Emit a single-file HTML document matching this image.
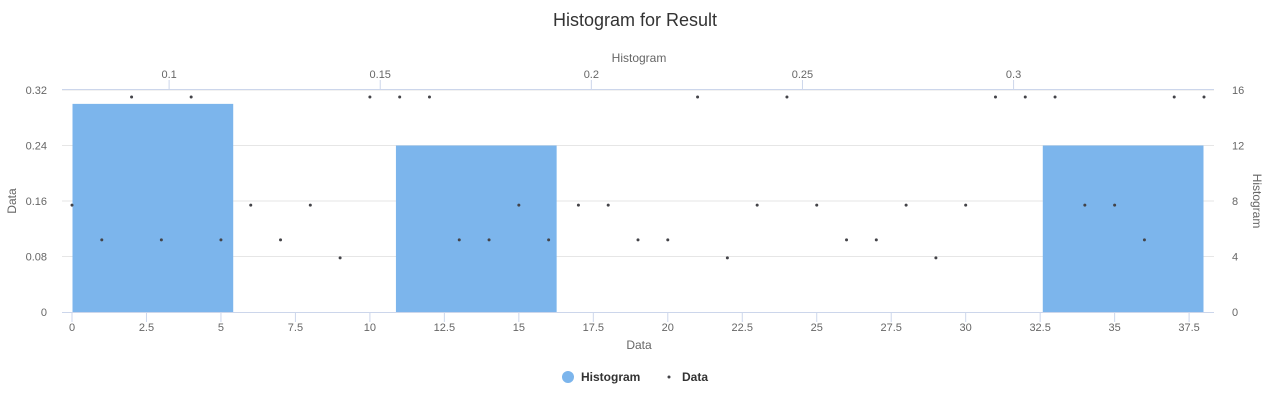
<!DOCTYPE html>
<html><head><meta charset="utf-8"><style>
body{margin:0;background:#fff;font-family:"Liberation Sans",sans-serif}
svg text{font-family:"Liberation Sans",sans-serif}
</style></head><body>
<svg id="c" width="1270" height="407"></svg>
<script>
const dataValues=[0.154,0.104,0.31,0.104,0.31,0.104,0.154,0.104,0.154,0.078,0.31,0.31,0.31,0.104,0.104,0.154,0.104,0.154,0.154,0.104,0.104,0.31,0.078,0.154,0.31,0.154,0.104,0.104,0.154,0.078,0.154,0.31,0.31,0.31,0.154,0.154,0.104,0.31,0.31];
const histCounts=[15,0,12,0,0,0,12];
const binStart=0.077, binWidth=0.0383;
const leftTicks=[0,0.08,0.16,0.24,0.32];
const rightTicks=[0,4,8,12,16];
const bottomTicks=[0,2.5,5,7.5,10,12.5,15,17.5,20,22.5,25,27.5,30,32.5,35,37.5];
const topTicks=[0.1,0.15,0.2,0.25,0.3];
const NS="http://www.w3.org/2000/svg";
const svg=document.getElementById('c');
const L=72,R=1204,T=90,B=312;
const xB=v=>L+(v/38)*(R-L);
const yL=v=>B-(v/0.32)*(B-T);
const yR=v=>B-(v/16)*(B-T);
const topMin=binStart, topMax=binStart+binWidth*7;
const xT=v=>L+(v-topMin)/(topMax-topMin)*(R-L);
function el(tag,attrs,txt){const e=document.createElementNS(NS,tag);for(const k in attrs)e.setAttribute(k,attrs[k]);if(txt!==undefined)e.textContent=txt;svg.appendChild(e);return e;}
let e=el('text',{x:635,y:26,'text-anchor':'middle','font-size':18,fill:'#333'},'Histogram for Result');


leftTicks.forEach(v=>{
 if(v>0){const g=el('line',{x1:L-10,x2:R+10,y1:yL(v),y2:yL(v),stroke:'#e6e6e6'});
 
 }
 const t=el('text',{x:47,y:yL(v)+4,'text-anchor':'end','font-size':11,fill:'#666'},String(v));
 
 
});
rightTicks.forEach(v=>{
 const t=el('text',{x:1232,y:yR(v)+4,'text-anchor':'start','font-size':11,fill:'#666'},String(v));
 
 
});
e=el('line',{x1:L-10,x2:R+10,y1:B+0.5,y2:B+0.5,stroke:'#ccd6eb'});


e=el('line',{x1:L-10,x2:R+10,y1:89.5,y2:89.5,stroke:'#ccd6eb'});


bottomTicks.forEach(v=>{
 const k=el('line',{x1:xB(v),x2:xB(v),y1:B,y2:B+10,stroke:'#ccd6eb'});
 
 
 const t=el('text',{x:xB(v),y:331,'text-anchor':'middle','font-size':11,fill:'#666'},String(v));
 
 
});
topTicks.forEach(v=>{
 const k=el('line',{x1:xT(v),x2:xT(v),y1:80,y2:90,stroke:'#ccd6eb'});
 
 
 const t=el('text',{x:xT(v),y:78,'text-anchor':'middle','font-size':11,fill:'#666'},String(v));
 
 
});
e=el('text',{x:639,y:349,'text-anchor':'middle','font-size':12,fill:'#666'},'Data');


e=el('text',{x:639,y:62,'text-anchor':'middle','font-size':12,fill:'#666'},'Histogram');


e=el('text',{x:16,y:201,'text-anchor':'middle','font-size':12,fill:'#666',transform:'rotate(-90 16 201)'},'Data');


e=el('text',{x:1253,y:201,'text-anchor':'middle','font-size':12,fill:'#666',transform:'rotate(90 1253 201)'},'Histogram');


histCounts.forEach((c,i)=>{
 if(!c)return;
 const x0=xT(binStart+i*binWidth),x1=xT(binStart+(i+1)*binWidth);
 const r=el('rect',{x:x0+0.5,y:yR(c),width:x1-x0-1,height:B-yR(c),fill:'#7cb5ec'});
 
 
});
dataValues.forEach((v,i)=>{
 const p=el('circle',{cx:xB(i),cy:yL(v),r:1.5,fill:'#434348'});
 
 
});
e=el('circle',{cx:568,cy:377,r:6,fill:'#7cb5ec'});


e=el('text',{x:581,y:381,'font-size':12,'font-weight':'bold',fill:'#333'},'Histogram');


e=el('circle',{cx:669,cy:377,r:1.5,fill:'#434348'});


e=el('text',{x:682,y:381,'font-size':12,'font-weight':'bold',fill:'#333'},'Data');


</script>
</body></html>
